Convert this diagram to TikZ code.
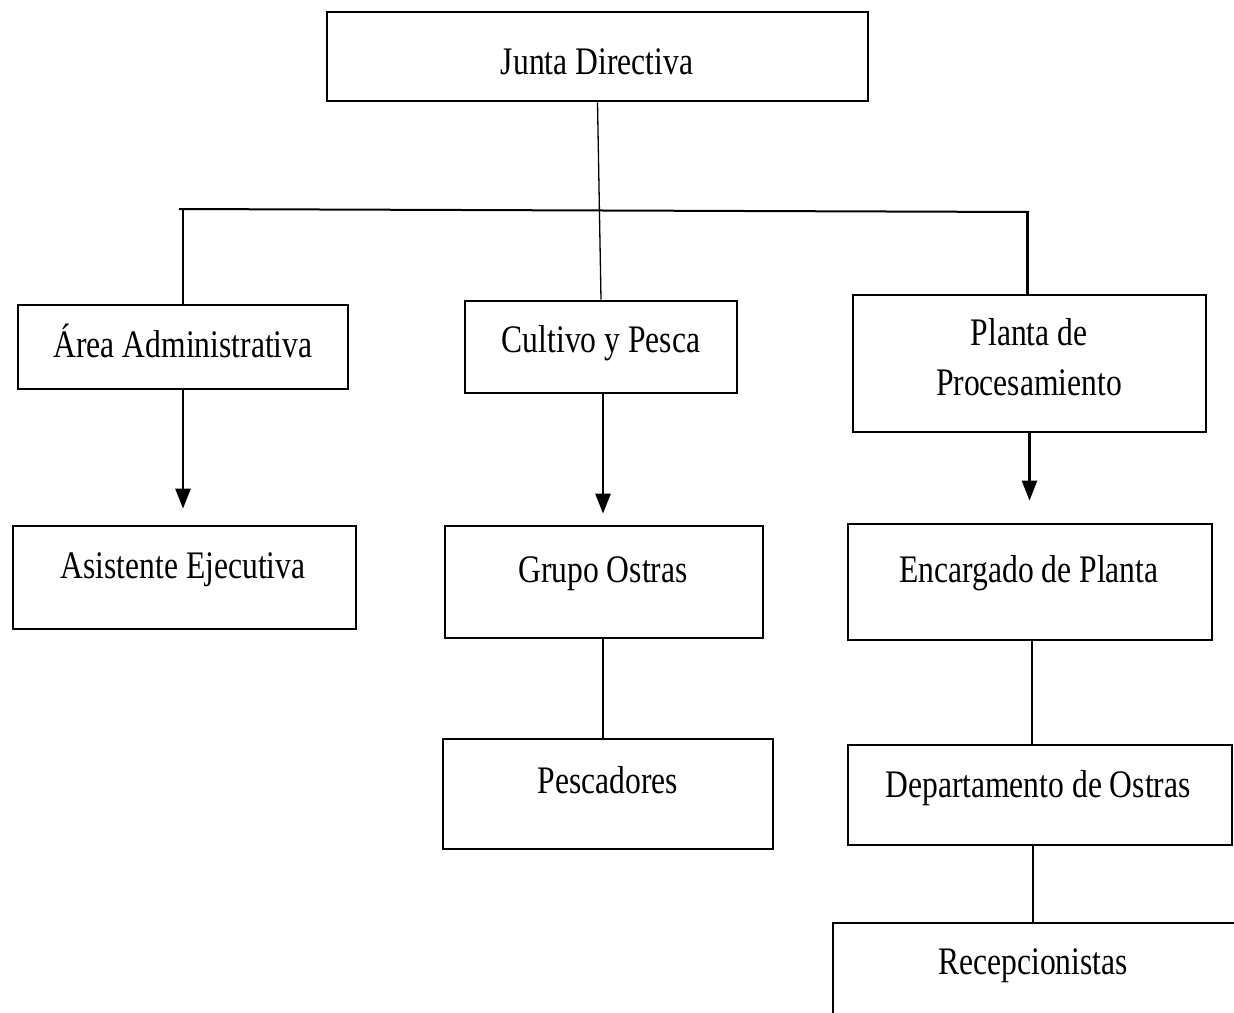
\documentclass[tikz,border=0pt]{standalone}
\usepackage{fontspec}
\setmainfont{Liberation Serif}[FakeStretch=0.81]
\usetikzlibrary{arrows.meta,calc}
\begin{document}
\begin{tikzpicture}[x=1pt,y=-1pt,
  box/.style={draw=black, line width=2.8pt, inner sep=0pt, rectangle},
  txt/.style={anchor=base, inner sep=0pt, font=\fontsize{39}{50}\selectfont},
  thinline/.style={line width=1.3pt},
  branch/.style={line width=2.4pt},
  arr/.style={line width=2.6pt, -{Triangle[width=15pt,length=20pt]}}]
\useasboundingbox (0,0) rectangle (1234,1012);
\fill[white] (0,0) rectangle (1234,1012);

% boxes
\node[box, minimum width=541pt, minimum height=89pt]  (junta) at (597.5,56.5) {};
\node[box, minimum width=330pt, minimum height=84pt]  (area)  at (183,347) {};
\node[box, minimum width=343pt, minimum height=103pt] (asis)  at (184.5,577.5) {};
\node[box, minimum width=272pt, minimum height=92pt]  (cult)  at (601,347) {};
\node[box, minimum width=318pt, minimum height=112pt] (grupo) at (604,582) {};
\node[box, minimum width=330pt, minimum height=110pt] (pesc)  at (608,794) {};
\node[box, minimum width=353pt, minimum height=137pt] (planta) at (1029.5,363.5) {};
\node[box, minimum width=364pt, minimum height=116pt] (enc)   at (1030,582) {};
\node[box, minimum width=384pt, minimum height=100pt] (dept)  at (1040,795) {};
\node[box, minimum width=417pt, minimum height=107pt] (recep) at (1041.5,976.5) {};

% texts
\node[txt] (t-junta) at (597,74) {Junta Directiva};
\node[txt] (t-area)  at (183,357) {Área Administrativa};
\node[txt] (t-asis)  at (183,578) {Asistente Ejecutiva};
\node[txt] (t-cult)  at (601,352) {Cultivo y Pesca};
\node[txt] (t-grupo) at (603,582) {Grupo Ostras};
\node[txt] (t-pesc)  at (608,793) {Pescadores};
\node[txt] (t-planta1) at (1029,345) {Planta de};
\node[txt] (t-planta2) at (1029,395) {Procesamiento};
\node[txt] (t-enc)   at (1029,582) {Encargado de Planta};
\node[txt] (t-dept)  at (1038,797) {Departamento de Ostras};
\node[txt] (t-recep) at (1033,974) {Recepcionistas};

% top structure
\coordinate (hl) at (179,209);
\coordinate (hr) at (1029,212);
\draw[line width=2pt] (hl) -- (hr);
\draw[thinline] (junta.south) -- (cult.north);
\draw[branch] (area.north |- hl) -- (area.north);
\draw[branch] ([xshift=-2pt]planta.north |- hr) -- ([xshift=-2pt]planta.north);

% arrows
\draw[arr, shorten >=16pt] (area.south) -- (area.south |- asis.north);
\draw[arr, shorten >=11pt] ([xshift=2pt]cult.south) -- ([xshift=2pt]cult.south |- grupo.north);
\draw[arr, shorten >=22pt] (planta.south) -- (planta.south |- enc.north);

% thin connectors
\draw[thinline] ([xshift=-1pt]grupo.south) -- ([xshift=-1pt]grupo.south |- pesc.north);
\draw[thinline] ([xshift=2pt]enc.south) -- ([xshift=2pt]enc.south |- dept.north);
\draw[thinline] ([xshift=-7pt]dept.south) -- ([xshift=-7pt]dept.south |- recep.north);
\end{tikzpicture}
\end{document}
